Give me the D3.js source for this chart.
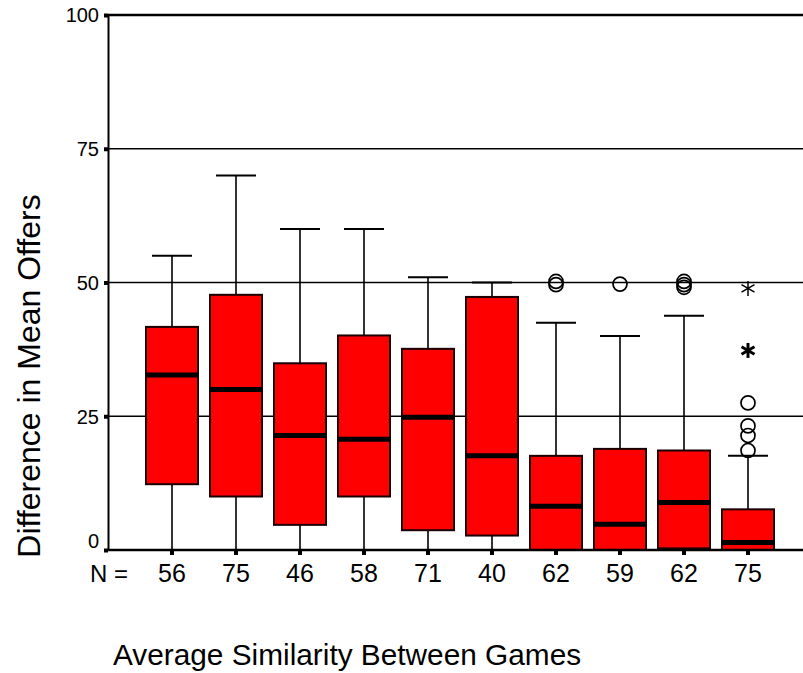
<!DOCTYPE html>
<html><head><meta charset="utf-8">
<script src="https://cdn.jsdelivr.net/npm/d3@7"></script>
<style>html,body{margin:0;padding:0;background:#fff;}svg{display:block;font-family:"Liberation Sans",Arial,sans-serif;}</style>
</head><body>
<svg id="chart" width="803" height="673"></svg>
<script>
const counts = [56, 75, 46, 58, 71, 40, 62, 59, 62, 75];
const whiskerHigh = [55, 70, 60, 60, 51, 50, 42.5, 40, 43.8, 17.6];
const q3 = [41.7, 47.7, 34.9, 40.1, 37.6, 47.3, 17.6, 18.9, 18.6, 7.6];
const medians = [32.7, 30.0, 21.4, 20.7, 24.8, 17.6, 8.2, 4.8, 8.9, 1.4];
const q1 = [12.3, 10.0, 4.7, 10.0, 3.7, 2.7, 0, 0, 0.3, 0];
const whiskerLow = [0, 0, 0, 0, 0, 0, 0, 0, 0, 0];
const outliers = [[], [], [], [], [], [], [49.6, 50.2], [49.7], [49.1, 49.6, 50.2], [18.6, 21.4, 23.2, 27.5]];
const extremes = [[], [], [], [], [], [], [], [], [], [48.9, 37.3]];
const yTicks = [0, 25, 50, 75, 100];
const xTitle = "Average Similarity Between Games";
const yTitle = "Difference in Mean Offers";

(function () {
const svg = d3.select("#chart");
const pLeft = 108, pRight = 803, pTop = 15, pBottom = 550;
const idx = d3.range(counts.length);
const x = d3.scaleBand().domain(idx).range([140, 780]).paddingInner(10/64).paddingOuter(5/64);
const y = d3.scaleLinear().domain([0, 100]).range([pBottom, pTop]);
const cx = i => x(i) + x.bandwidth() / 2;

// gridlines
svg.append("g").selectAll("line").data(yTicks.filter(t => t > 0)).join("line")
  .attr("x1", pLeft).attr("x2", pRight).attr("y1", d => y(d)).attr("y2", d => y(d))
  .attr("stroke", "#000").attr("stroke-width", d => d === 100 ? 2.5 : 1.5);

// y axis
const yAxis = svg.append("g").attr("transform", `translate(${pLeft},0)`)
  .call(d3.axisLeft(y).tickValues(yTicks).tickSize(0).tickPadding(9));
yAxis.select(".domain").attr("stroke", "#000").attr("stroke-width", 2);
yAxis.selectAll("text").attr("font-size", 20).attr("fill", "#000")
  .attr("font-family", "Liberation Sans, Arial, sans-serif")
  .attr("dy", d => d === 0 ? "-0.12em" : "0.34em");
yAxis.selectAll(".tick").append("rect").attr("x", -4).attr("y", -2).attr("width", 4).attr("height", 4).attr("fill", "#000");

// whiskers
const g = svg.append("g");
g.selectAll("line.stem").data(idx).join("line").attr("class", "stem")
  .attr("x1", cx).attr("x2", cx).attr("y1", i => y(whiskerLow[i])).attr("y2", i => y(whiskerHigh[i]))
  .attr("stroke", "#000").attr("stroke-width", 1.6);
g.selectAll("line.cap").data(idx).join("line").attr("class", "cap")
  .attr("x1", i => cx(i) - 20).attr("x2", i => cx(i) + 20)
  .attr("y1", i => y(whiskerHigh[i])).attr("y2", i => y(whiskerHigh[i]))
  .attr("stroke", "#000").attr("stroke-width", 2);

// boxes
g.selectAll("rect.box").data(idx).join("rect").attr("class", "box")
  .attr("x", i => x(i) + 1).attr("width", x.bandwidth() - 2)
  .attr("y", i => y(q3[i])).attr("height", i => y(q1[i]) - y(q3[i]))
  .attr("fill", "#ff0000").attr("stroke", "#1a0000").attr("stroke-width", 2);
g.selectAll("line.med").data(idx).join("line").attr("class", "med")
  .attr("x1", i => x(i) + 1).attr("x2", i => x(i) + x.bandwidth() - 1)
  .attr("y1", i => y(medians[i])).attr("y2", i => y(medians[i]))
  .attr("stroke", "#000").attr("stroke-width", 5);

// outliers
const outs = [];
outliers.forEach((arr, i) => arr.forEach(v => outs.push({i, v})));
g.selectAll("circle.out").data(outs).join("circle").attr("class", "out")
  .attr("cx", d => cx(d.i)).attr("cy", d => y(d.v)).attr("r", 7)
  .attr("fill", "none").attr("stroke", "#000").attr("stroke-width", 1.7);

const ext = [];
extremes.forEach((arr, i) => arr.forEach((v, k) => ext.push({i, v, k})));
const star = g.selectAll("g.ext").data(ext).join("g").attr("class", "ext")
  .attr("transform", d => `translate(${cx(d.i)},${y(d.v)})`);
star.each(function(d) {
  const s = d3.select(this);
  const r = 7.5, w = d.k === 0 ? 1.5 : 3;
  [90, 30, 150].forEach(a => {
    const rad = a * Math.PI / 180;
    s.append("line").attr("x1", -r * Math.cos(rad)).attr("y1", -r * Math.sin(rad))
      .attr("x2", r * Math.cos(rad)).attr("y2", r * Math.sin(rad))
      .attr("stroke", "#000").attr("stroke-width", w);
  });
});

// x axis
svg.append("line").attr("x1", pLeft).attr("x2", pRight).attr("y1", pBottom).attr("y2", pBottom)
  .attr("stroke", "#000").attr("stroke-width", 2.5);
svg.append("g").selectAll("rect").data(idx).join("rect")
  .attr("x", i => cx(i) - 2).attr("y", pBottom).attr("width", 4).attr("height", 5).attr("fill", "#000");
svg.append("g").selectAll("text").data(idx).join("text")
  .attr("x", cx).attr("y", 582).attr("text-anchor", "middle")
  .attr("font-size", 25).attr("fill", "#000").text(i => counts[i]);
svg.append("text").attr("x", 90).attr("y", 582).attr("font-size", 24).attr("fill", "#000").text("N =");

// titles
svg.append("text").attr("x", 113).attr("y", 665).attr("font-size", 29.8).attr("fill", "#000").text(xTitle);
svg.append("text").attr("transform", "translate(40,376) rotate(-90)").attr("text-anchor", "middle")
  .attr("font-size", 32).attr("fill", "#000").text(yTitle);
})();
</script>
</body></html>
